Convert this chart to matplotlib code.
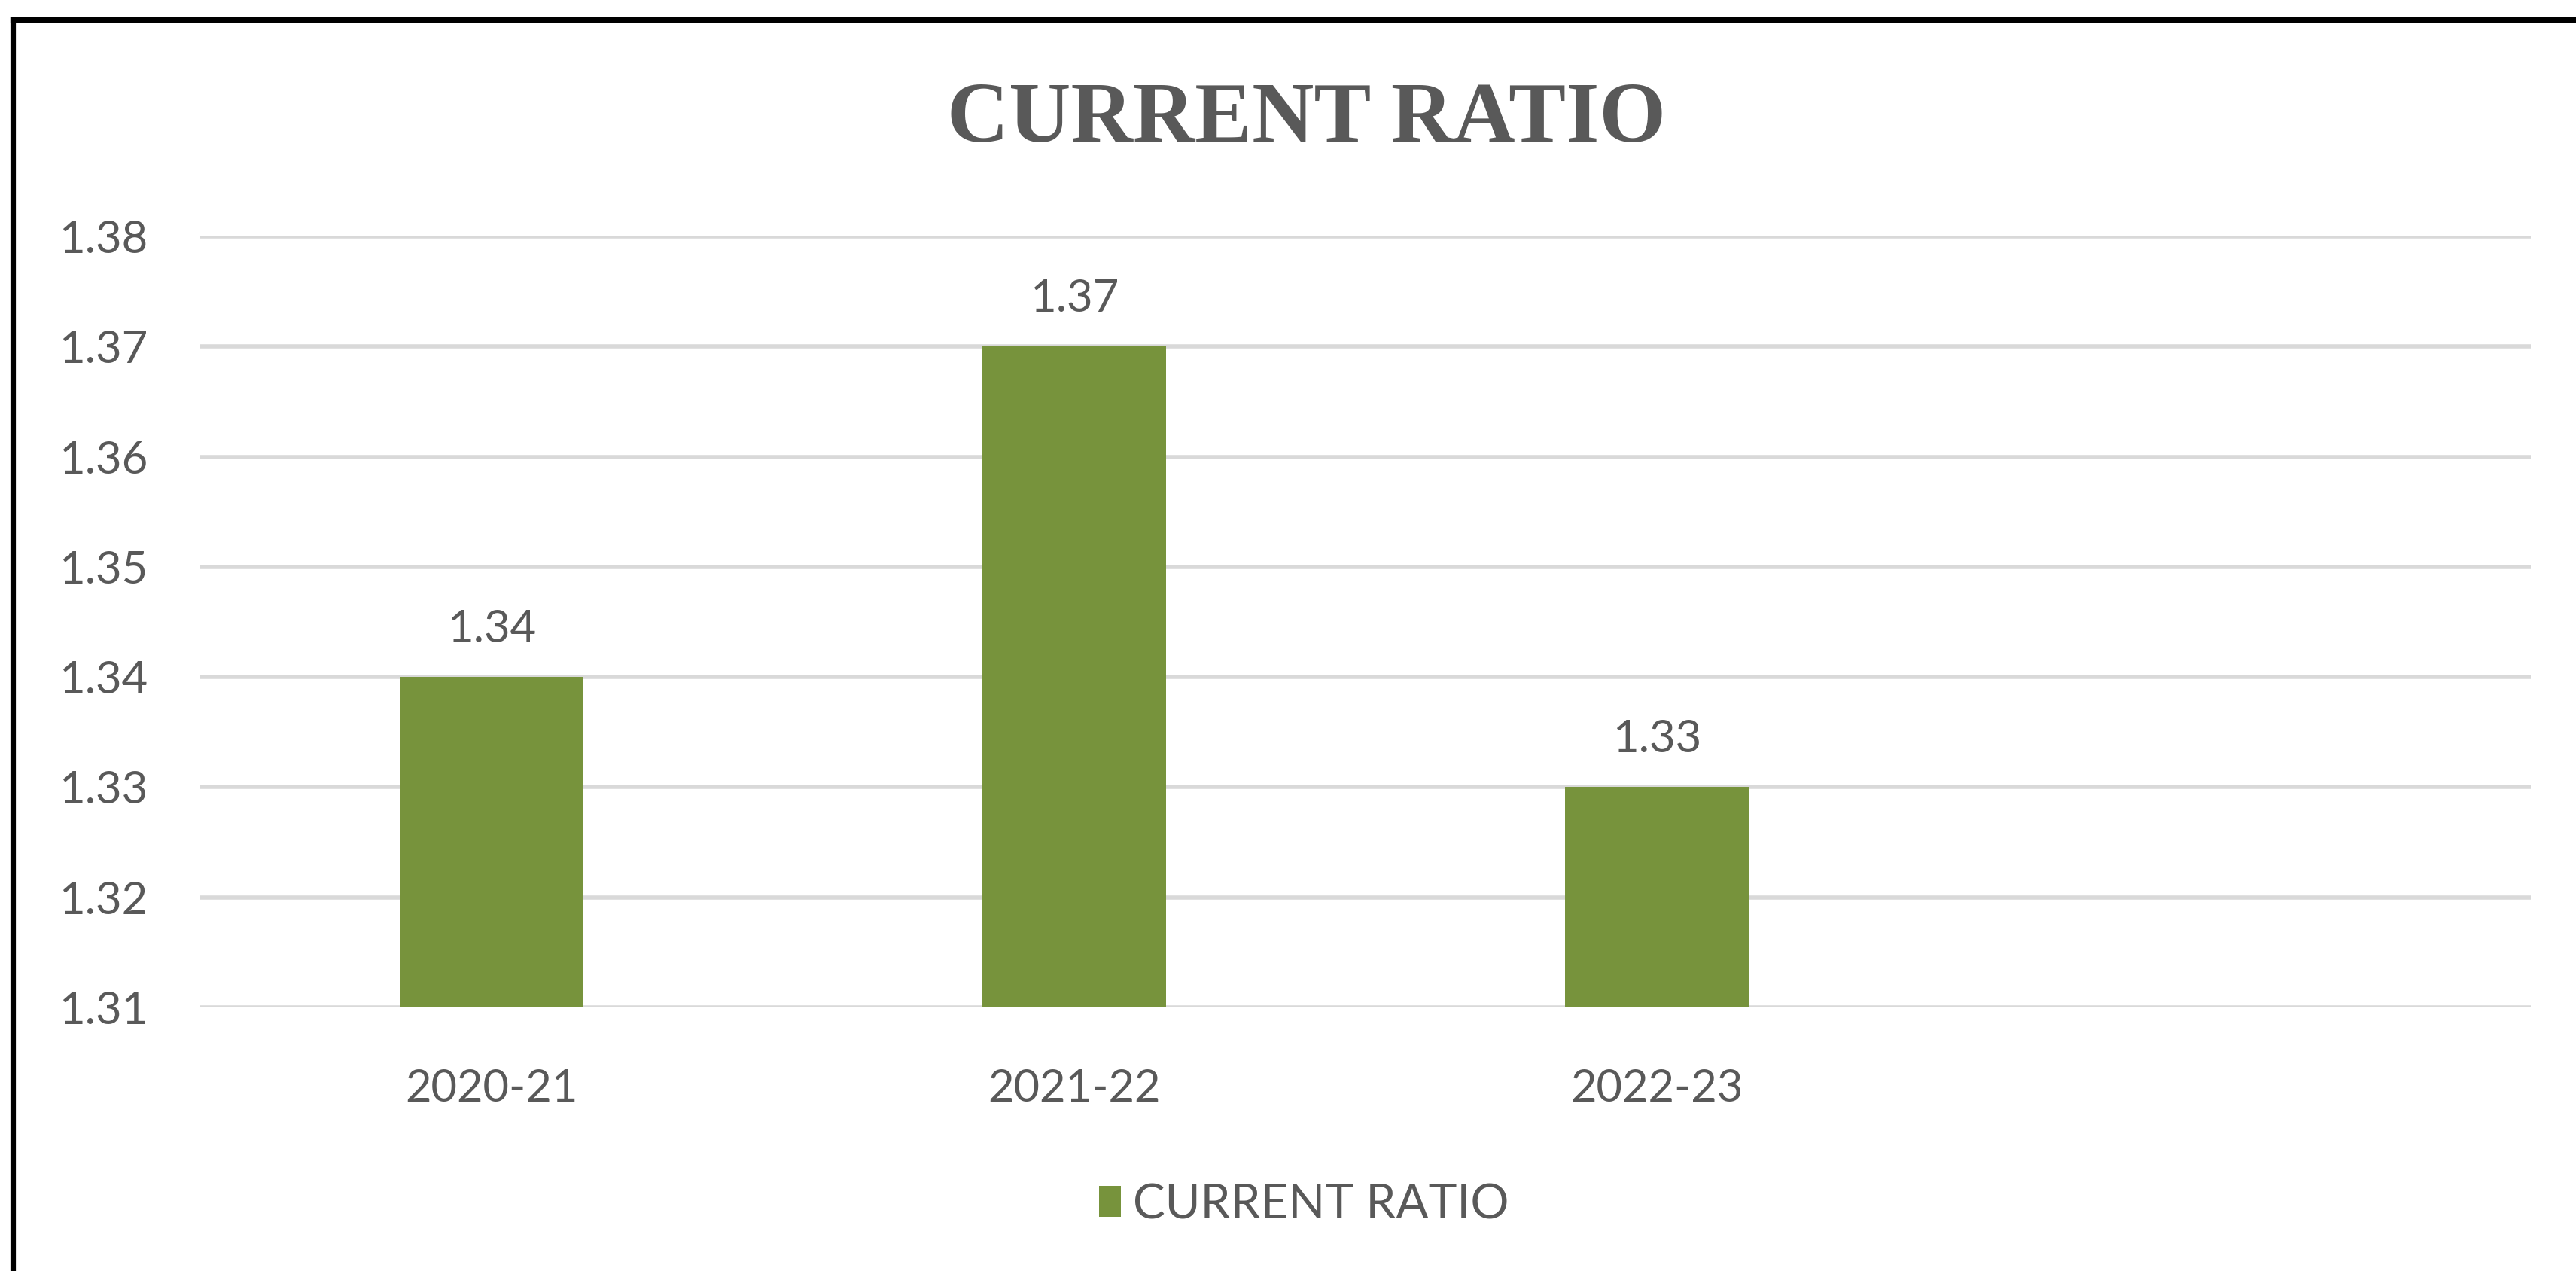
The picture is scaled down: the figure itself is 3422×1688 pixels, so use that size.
import matplotlib
matplotlib.use("Agg")
import matplotlib.pyplot as plt
from matplotlib.lines import Line2D
from matplotlib.patches import Patch

categories = ["2020-21", "2021-22", "2022-23"]
values = [1.34, 1.37, 1.33]
y_ticks = [1.31, 1.32, 1.33, 1.34, 1.35, 1.36, 1.37, 1.38]
title = "CURRENT RATIO"
series_name = "CURRENT RATIO"

BAR = "#77933C"
TXT = "#595959"
GRID = "#D9D9D9"

DPI = 200
fig = plt.figure(figsize=(3423 / DPI, 1688 / DPI), dpi=DPI, facecolor="white")
ax = fig.add_axes([0.0777, 0.2073, 0.9045, 0.6067])

x = list(range(len(categories)))
ax.bar(x, values, width=0.315, color=BAR, zorder=3, bottom=0)
ax.set_ylim(y_ticks[0], y_ticks[-1])
ax.set_xlim(-0.5, len(categories) + 0.5)
ax.set_yticks(y_ticks)
ax.set_yticklabels([f"{t:.2f}" for t in y_ticks])
ax.set_xticks(x)
ax.set_xticklabels(categories)

for s in ax.spines.values():
    s.set_visible(False)
ax.yaxis.grid(True, color=GRID, linewidth=2.0, zorder=0)
ax.set_axisbelow(True)
ax.tick_params(axis="both", length=0, labelcolor=TXT, labelsize=21.5)
ax.tick_params(axis="y", pad=25)
ax.tick_params(axis="x", pad=29)
for lab in ax.get_xticklabels() + ax.get_yticklabels():
    lab.set_family("Lato")

for xi, v in zip(x, values):
    ax.annotate(f"{v:.2f}", (xi, v), xytext=(0, 13), textcoords="offset points",
                ha="center", va="bottom", fontsize=21.5, color=TXT, family="Lato")

fig.text(0.507, 0.905, title, ha="center", va="center", fontsize=41,
         fontweight="bold", color=TXT, family="Liberation Serif")

leg = fig.legend(handles=[Patch(facecolor=BAR, edgecolor="none", label=series_name)],
                 loc="center", bbox_to_anchor=(0.506, 0.052), frameon=False,
                 prop={"family": "Lato", "size": 23}, handlelength=0.45, handleheight=0.6,
                 handletextpad=0.25)
for t in leg.get_texts():
    t.set_color(TXT)

fig.add_artist(Line2D([0.005, 1.0], [0.9846, 0.9846], transform=fig.transFigure,
                      color="black", linewidth=2.6))
fig.add_artist(Line2D([0.005, 0.005], [0.0, 0.9846], transform=fig.transFigure,
                      color="black", linewidth=2.6))

fig.savefig("out.png", dpi=DPI, facecolor="white")
